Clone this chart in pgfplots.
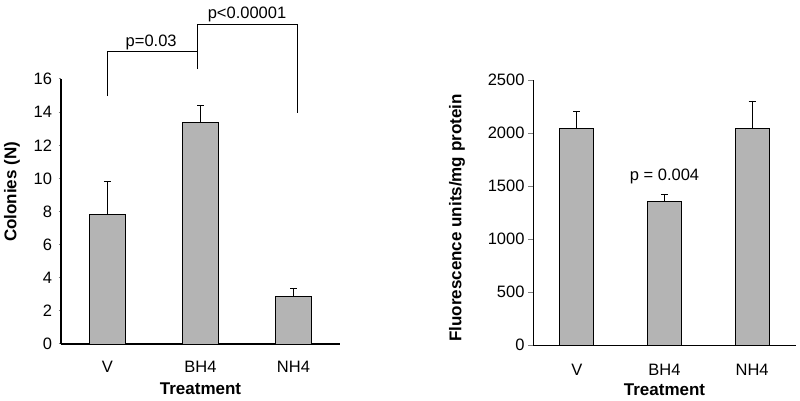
\documentclass[border=0pt]{standalone}
\usepackage{pgfplots}
\pgfplotsset{compat=1.18}
\usepackage{fontspec}
\setmainfont{Liberation Sans}
\definecolor{barfill}{RGB}{180,180,180}

\pgfplotsset{
  bars/.style={
    scale only axis,
    ybar, clip=false,
    xmin=-0.5, xmax=2.5, ymin=0,
    xtick={0,1,2}, xticklabels={V,BH4,NH4},
    major x tick style={draw=none},
    axis x line=bottom, axis y line=left,
    tick align=outside,
    /pgf/number format/assume math mode=true,
    /pgf/number format/1000 sep={},
    tick label style={font=\fontsize{16.5}{19}\selectfont},
    label style={font=\fontsize{17}{20}\selectfont\bfseries},
    xlabel=Treatment,
    xlabel style={at={(axis description cs:0.5,0)}, anchor=center, yshift=-45pt},
    xticklabel style={anchor=center, yshift=-20pt},
    error bars/y dir=plus, error bars/y explicit,
    error bars/error mark=-,
    error bars/error mark options={black, mark size=3.5pt, line width=0.8pt, rotate=90},
    error bars/error bar style={black, line width=0.8pt},
  },
}

\begin{document}
\begin{tikzpicture}
\useasboundingbox (0,0) rectangle (800pt,401pt);

% left panel: colonies
\begin{axis}[bars,
  at={(61pt,57pt)}, anchor=south west,
  width=279pt, height=265pt,
  ymax=16, ytick={0,2,...,16},
  bar width=36pt,
  axis line style={line width=2.8pt, -},
  major y tick style={line width=1pt},
  major tick length=2.5pt,
  yticklabel style={xshift=-3pt},
  ylabel={Colonies (N)},
  ylabel style={at={(axis description cs:-0.176,0.574)}, anchor=center},
]
\addplot[fill=barfill, draw=black, line width=0.8pt]
  coordinates {(0,7.8) +- (0,2.0) (1,13.4) +- (0,1.0) (2,2.85) +- (0,0.5)};
\draw[line width=0.8pt] (axis cs:0,14.97) -- (axis cs:0,17.69) -- (axis cs:0.97,17.69);
\draw[line width=0.8pt] (axis cs:0.97,16.6) -- (axis cs:0.97,19.32) -- (axis cs:2.04,19.32) -- (axis cs:2.04,13.95);
\node[font=\fontsize{16.5}{19}\selectfont] at (axis cs:0.47,18.23) {p=0.03};
\node[font=\fontsize{16.5}{19}\selectfont] at (axis cs:1.5,19.92) {p<0.00001};
\end{axis}

% right panel: fluorescence
\begin{axis}[bars,
  at={(533pt,56pt)}, anchor=south west,
  width=263pt, height=265pt,
  ymax=2500, ytick={0,500,...,2500},
  bar width=34pt,
  axis line style={line width=0.9pt, -},
  major y tick style={line width=0.9pt},
  major tick length=5pt,
  ylabel={Fluorescence units/mg protein},
  ylabel style={at={(axis description cs:-0.289,0.479)}, anchor=center},
]
\addplot[fill=barfill, draw=black, line width=0.8pt]
  coordinates {(0,2040) +- (0,160) (1,1350) +- (0,72) (2,2040) +- (0,262)};
\node[font=\fontsize{16.5}{19}\selectfont] at (axis cs:1,1588) {p = 0.004};
\end{axis}
\end{tikzpicture}
\end{document}
